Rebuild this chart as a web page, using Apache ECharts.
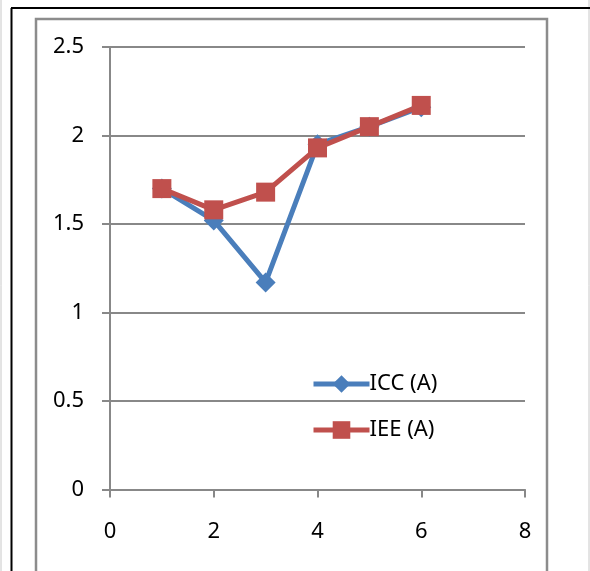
<!DOCTYPE html>
<html>
<head>
<meta charset="utf-8">
<script src="https://cdn.jsdelivr.net/npm/echarts@6/dist/echarts.min.js"></script>
<style>html,body{margin:0;padding:0;background:#fff}#c{width:590px;height:571px}</style>
</head>
<body>
<div id="c"></div>
<script>
var xValues = [1, 2, 3, 4, 5, 6];
var iccValues = [1.70, 1.52, 1.17, 1.95, 2.05, 2.16];
var ieeValues = [1.70, 1.58, 1.68, 1.93, 2.05, 2.17];
var seriesNames = ['ICC (A)', 'IEE (A)'];

function pairs(xs, ys) { return xs.map(function (x, i) { return [x, ys[i]]; }); }

var FONT = 'Noto Sans';
var chart = echarts.init(document.getElementById('c'), null, {renderer: 'canvas'});
chart.setOption({
  animation: false,
  backgroundColor: '#fff',
  graphic: [
    {type: 'line', shape: {x1: 1, y1: 0, x2: 1, y2: 571}, style: {stroke: '#c8c8c8', lineWidth: 1}},
    {type: 'line', shape: {x1: 589, y1: 0, x2: 589, y2: 571}, style: {stroke: '#c8c8c8', lineWidth: 1}},
    {type: 'line', shape: {x1: 11.5, y1: 8, x2: 11.5, y2: 571}, style: {stroke: '#000', lineWidth: 2}},
    {type: 'line', shape: {x1: 11, y1: 8, x2: 590, y2: 8}, style: {stroke: '#000', lineWidth: 2}},
    {type: 'polyline', shape: {points: [[36, 580], [36, 19], [547, 19], [547, 580]]}, style: {stroke: '#8c8c8c', lineWidth: 2.5, fill: null}}
  ],
  grid: {left: 110, right: 65, top: 47, bottom: 81.5, containLabel: false},
  legend: {
    orient: 'vertical',
    left: 306,
    top: 367,
    itemWidth: 56,
    itemHeight: 22,
    itemGap: 22,
    lineStyle: {width: 5},
    textStyle: {fontFamily: FONT, fontSize: 22, color: '#000', lineHeight: 24, padding: [0, 0, 0, -5]},
    data: seriesNames
  },
  xAxis: {
    type: 'value', min: 0, max: 8, interval: 2,
    axisLine: {show: true, lineStyle: {color: '#888', width: 2}},
    axisTick: {show: true, length: 8, lineStyle: {color: '#888', width: 2}},
    axisLabel: {fontFamily: FONT, fontSize: 22, color: '#000', margin: 31},
    splitLine: {show: false}
  },
  yAxis: {
    type: 'value', min: 0, max: 2.5, interval: 0.5,
    axisLine: {show: true, lineStyle: {color: '#888', width: 2}},
    axisTick: {show: true, length: 8, lineStyle: {color: '#888', width: 2}},
    axisLabel: {fontFamily: FONT, fontSize: 22, color: '#000', margin: 26},
    splitLine: {show: true, lineStyle: {color: '#888', width: 2}}
  },
  series: [
    {
      name: seriesNames[0], type: 'line', data: pairs(xValues, iccValues),
      symbol: 'diamond', symbolSize: 20,
      lineStyle: {color: '#4A7EBB', width: 5},
      itemStyle: {color: '#4A7EBB'}
    },
    {
      name: seriesNames[1], type: 'line', data: pairs(xValues, ieeValues),
      symbol: 'rect', symbolSize: 19,
      lineStyle: {color: '#C0504D', width: 5},
      itemStyle: {color: '#C0504D'}
    }
  ]
});
</script>
</body>
</html>
